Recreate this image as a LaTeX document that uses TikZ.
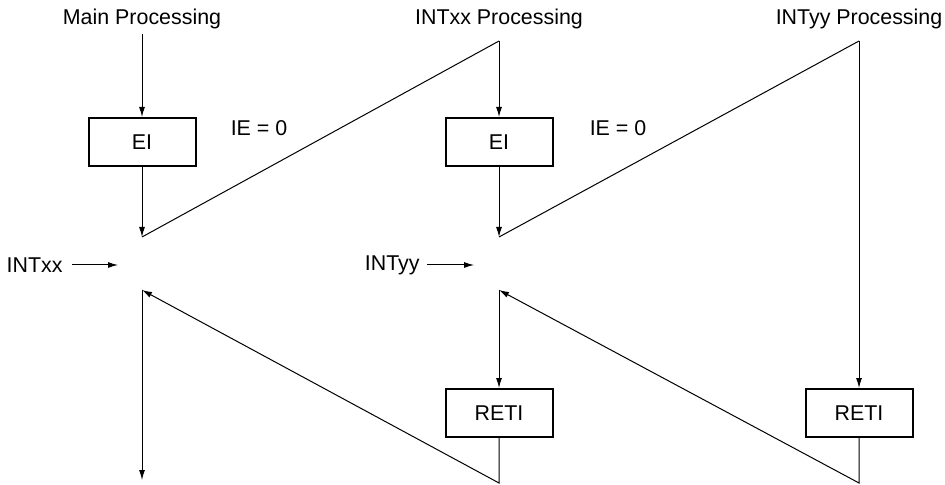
\documentclass[tikz,border=0pt]{standalone}
\usepackage{fontspec}
\setmainfont{Liberation Sans}
\usetikzlibrary{
  arrows.meta,
  positioning
}
\tikzset{
  txtlabel/.style={inner sep=0pt,font=\fontsize{10.7}{13}\selectfont},
  procbox/.style={
    draw,
    line width=1pt,
    minimum width=53.5pt,
    minimum height=24pt,
    inner sep=0pt,
    font=\fontsize{10.7}{13}\selectfont
  },
  flowarrow/.style={-{Latex[length=5pt,width=3pt]},line width=0.5pt},
  flowline/.style={line width=0.5pt}
}

\begin{document}
\begin{tikzpicture}[x=0.5pt,y=-0.5pt]
  \useasboundingbox (0,0) rectangle (945,485);
  % titles
  \node[txtlabel] (tmain) at (142,19) {Main Processing};
  \node[txtlabel] (txx) at (499,19) {INTxx Processing};
  \node[txtlabel] (tyy) at (859,19) {INTyy Processing};
  % boxes
  \node[procbox] (ei1) at (142,142) {EI};
  \node[procbox] (ei2) at (499,142) {EI};
  \node[procbox] (reti2) at (499,413) {RETI};
  \node[procbox] (reti3) at (859,413) {RETI};
  \node[txtlabel] (ie1) at (259,128) {IE = 0};
  \node[txtlabel] (ie2) at (618,128) {IE = 0};
  % branch points
  \coordinate (m0) at (142,34);
  \coordinate (xx0) at (499,41);
  \coordinate (yy0) at (859,41);
  \coordinate (int1) at (142,237);
  \coordinate (ret1) at (142,290);
  \coordinate (end1) at (142,480);
  \coordinate (int2) at (499,237);
  \coordinate (ret2) at (499,290);
  \coordinate (bot2) at (499,483);
  \coordinate (bot3) at (859,483);
  % interrupt requests
  \node[txtlabel,anchor=east] (rxx) at (63,265) {INTxx};
  \coordinate (rxxe) at (118,265);
  \node[txtlabel,anchor=east] (ryy) at (420,265) {INTyy};
  \coordinate (ryye) at (474,265);
  \draw[flowarrow] ([xshift=4.5pt]rxx.east) -- (rxxe);
  \draw[flowarrow] ([xshift=3.5pt]ryy.east) -- (ryye);

  % main flow
  \draw[flowarrow] (m0) -- (ei1);
  \draw[flowarrow] (ei1) -- (int1);
  \draw[flowline] (int1) -- (xx0);
  \draw[flowarrow] (xx0) -- (ei2);
  \draw[flowarrow] (ei2) -- (int2);
  \draw[flowline] (int2) -- (yy0);
  \draw[flowarrow] (yy0) -- (reti3);
  \draw[flowarrow] (reti3) -- (bot3) -- (ret2);
  \draw[flowarrow] (ret2) -- (reti2);
  \draw[flowarrow] (reti2) -- (bot2) -- (ret1);
  \draw[flowarrow] (ret1) -- (end1);
\end{tikzpicture}
\end{document}
